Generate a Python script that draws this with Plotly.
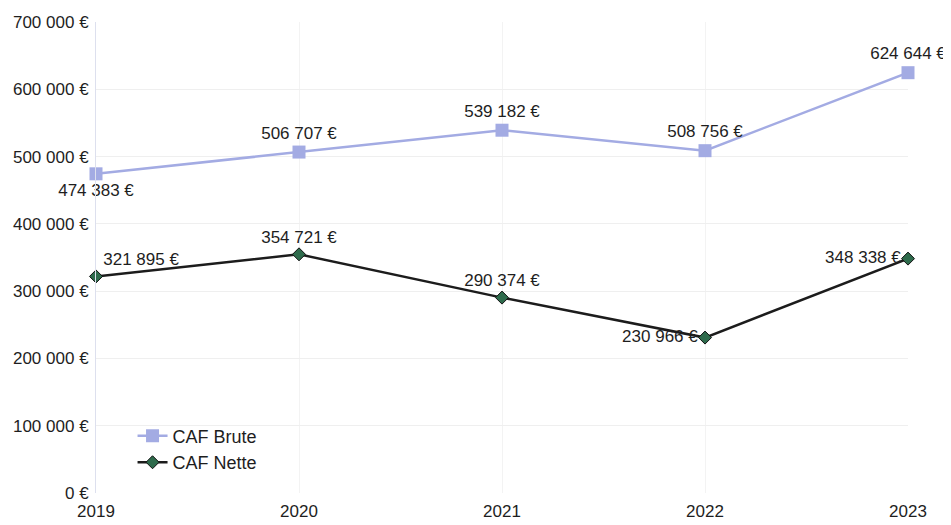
import plotly.graph_objects as go

years = [2019, 2020, 2021, 2022, 2023]
caf_brute = [474383, 506707, 539182, 508756, 624644]
caf_nette = [321895, 354721, 290374, 230966, 348338]
brute_labels = ["474 383 €", "506 707 €", "539 182 €", "508 756 €", "624 644 €"]
nette_labels = ["321 895 €", "354 721 €", "290 374 €", "230 966 €", "348 338 €"]
brute_pos = ["bottom center", "top center", "top center", "top center", "top center"]
nette_pos = ["top right", "top center", "top center", "middle left", "middle left"]
y_ticks = [0, 100000, 200000, 300000, 400000, 500000, 600000, 700000]
y_ticktext = ["0 €", "100 000 €", "200 000 €", "300 000 €", "400 000 €", "500 000 €", "600 000 €", "700 000 €"]
x_ticktext = ["2019", "2020", "2021", "2022", "2023"]

FONT = "Liberation Sans, Arial"

fig = go.Figure()
fig.add_trace(go.Scatter(
    x=years, y=caf_brute, name="CAF Brute", mode="lines+markers+text",
    line=dict(color="#a3abe3", width=2.5),
    marker=dict(symbol="square", size=13, color="#a3abe3"),
    text=brute_labels, textposition=brute_pos,
    textfont=dict(family=FONT, size=17, color="#1e1e1e"),
    cliponaxis=False,
))
fig.add_trace(go.Scatter(
    x=years, y=caf_nette, name="CAF Nette", mode="lines+markers+text",
    line=dict(color="#1c1c1c", width=2.5),
    marker=dict(symbol="diamond", size=10, color="#2e6b4c", line=dict(color="#111111", width=1)),
    text=nette_labels, textposition=nette_pos,
    textfont=dict(family=FONT, size=17, color="#1e1e1e"),
    cliponaxis=False,
))

fig.update_layout(
    width=951, height=525,
    margin=dict(l=88, r=51, t=14, b=40),
    paper_bgcolor="white", plot_bgcolor="white",
    font=dict(family=FONT, size=17, color="#1e1e1e"),
    legend=dict(x=0.045, y=0.16, xanchor="left", yanchor="top",
                bgcolor="rgba(0,0,0,0)", font=dict(size=18, color="#1e1e1e"),
                tracegroupgap=0),
    xaxis=dict(range=[2019, 2023], tickvals=years, ticktext=x_ticktext,
               showgrid=True, gridcolor="#f3f3f3", zeroline=False,
               showline=False, ticks="", ticklabelstandoff=6,
               tickfont=dict(size=17), automargin=False),
    yaxis=dict(range=[0, 700000], tickvals=y_ticks, ticktext=y_ticktext,
               showgrid=True, gridcolor="#efefef", zeroline=False,
               showline=True, linecolor="#dde0ee", ticks="", ticklabelstandoff=3,
               tickfont=dict(size=17), automargin=False, ticklabeloverflow="allow"),
    showlegend=True,
)

fig.write_html("out.html")
